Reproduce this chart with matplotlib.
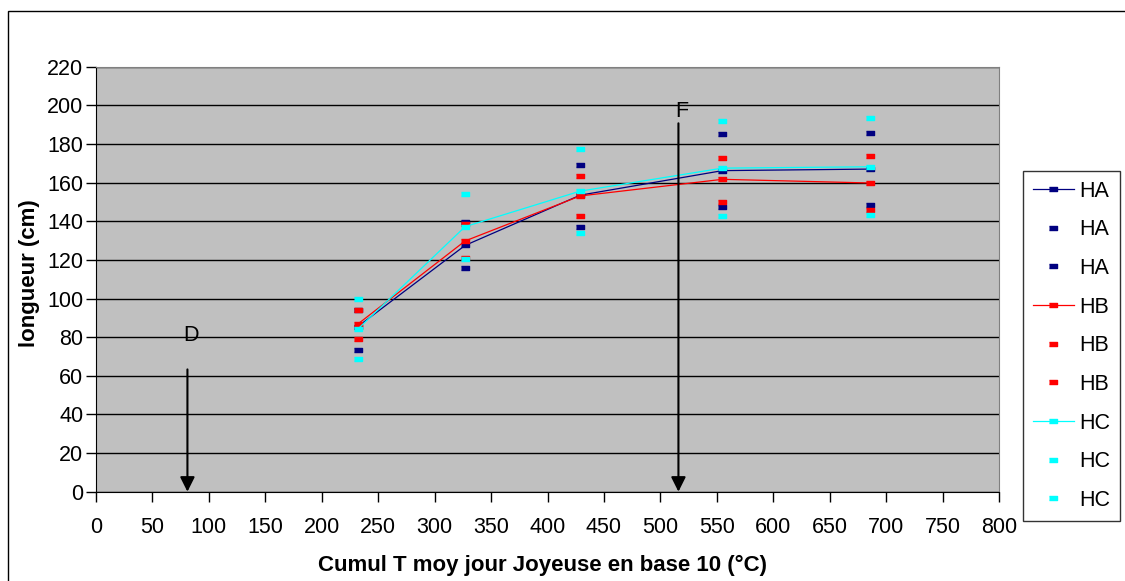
import matplotlib.pyplot as plt
from matplotlib import patches as mpatches

plt.rcParams['font.family'] = ['Liberation Sans', 'DejaVu Sans']

# cumul de temperature (x) et longueurs (cm)
cumul_t = [232, 327, 429, 555, 686]

ha_moy = [85.5, 127.5, 153.5, 166.2, 167.0]
ha_max = [94.0, 139.5, 169.0, 185.1, 185.8]
ha_min = [73.3, 115.6, 137.2, 147.2, 148.6]

hb_moy = [86.8, 129.8, 153.1, 161.7, 159.8]
hb_max = [94.0, 138.8, 163.4, 172.9, 173.9]
hb_min = [79.0, 120.9, 142.7, 149.9, 145.6]

hc_moy = [84.2, 137.2, 155.6, 167.5, 168.2]
hc_max = [99.7, 154.0, 177.2, 192.0, 193.3]
hc_min = [68.7, 120.4, 133.7, 142.9, 143.2]

y_ticks = list(range(0, 221, 20))
x_ticks = list(range(0, 801, 50))

# repères D et F
stade_x = [81, 516]
stade_haut = [63.3, 190.7]
stade_txt = ['D', 'F']
stade_txt_y = [81, 196.7]

W, H = 1125, 581
fs = 15.5
fig = plt.figure(figsize=(W / 100, H / 100), dpi=100)
fig.patches.append(mpatches.Rectangle((8 / W, -0.1), 1.2, 1 - 11 / H + 0.1,
                                      transform=fig.transFigure, fill=False,
                                      edgecolor='black', linewidth=1.0))

ax = fig.add_axes([96 / W, 1 - 491.7 / H, (999 - 96) / W, (491.7 - 66.7) / H])
ax.set_facecolor('#C0C0C0')

dash = [(-1, -0.45), (1, -0.45), (1, 0.45), (-1, 0.45)]
ms = 6
series = [
    ('HA', '#000080', ha_moy, ha_max, ha_min),
    ('HB', '#FF0000', hb_moy, hb_max, hb_min),
    ('HC', '#00FFFF', hc_moy, hc_max, hc_min),
]
handles = []
for name, col, moy, hi, lo in series:
    h1, = ax.plot(cumul_t, moy, color=col, lw=0.9, marker=dash, ms=ms,
                  mec=col, mfc=col, label=name, zorder=3)
    h2, = ax.plot(cumul_t, hi, ls='none', marker=dash, ms=ms,
                  mec=col, mfc=col, label=name, zorder=3)
    h3, = ax.plot(cumul_t, lo, ls='none', marker=dash, ms=ms,
                  mec=col, mfc=col, label=name, zorder=3)
    handles += [h1, h2, h3]

for xs, yh, t, ty in zip(stade_x, stade_haut, stade_txt, stade_txt_y):
    ax.annotate('', xy=(xs, 0), xytext=(xs, yh),
                arrowprops=dict(arrowstyle='-|>', color='black', lw=1.5,
                                mutation_scale=22, shrinkA=0, shrinkB=0),
                zorder=4)
    ax.text(xs + 3, ty, t, ha='center', va='center', fontsize=fs, zorder=4)

ax.set_xlim(0, 800)
ax.set_ylim(0, 220)
ax.set_xticks(x_ticks)
ax.set_yticks(y_ticks)
ax.tick_params(direction='out', length=7, width=1, labelsize=fs)
ax.tick_params(axis='x', pad=11)
ax.tick_params(axis='y', pad=2)
ax.grid(axis='y', color='black', lw=1)
ax.set_axisbelow(True)
for s in ['top', 'right']:
    ax.spines[s].set_color('#808080')
for s in ['left', 'bottom']:
    ax.spines[s].set_color('black')

fig.text(542 / W, 1 - 565 / H, 'Cumul T moy jour Joyeuse en base 10 (°C)',
         ha='center', va='center', fontsize=16, fontweight='bold')
fig.text(30 / W, 1 - 273 / H, 'longueur (cm)', rotation=90,
         ha='center', va='center', fontsize=16, fontweight='bold')

leg = fig.legend(handles=handles, labels=[h.get_label() for h in handles],
                 loc='upper left', bbox_to_anchor=(1023 / W, 1 - 171 / H),
                 fontsize=fs, frameon=True, fancybox=False,
                 edgecolor='black', labelspacing=0.82, handlelength=1.9,
                 handletextpad=0.25, borderpad=0.45, borderaxespad=0)
leg.get_frame().set_linewidth(1.0)

fig.savefig('out.png', dpi=100)
